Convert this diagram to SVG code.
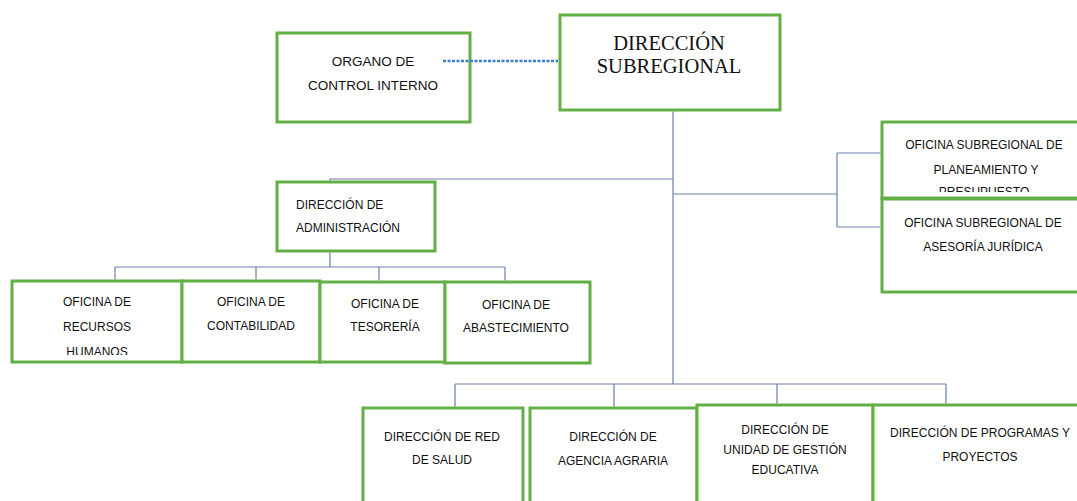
<svg xmlns="http://www.w3.org/2000/svg" width="1077" height="501" viewBox="0 0 1077 501">
<style>
.box{fill:#ffffff;stroke:#62b045;stroke-width:3}
.t{font-family:"Liberation Sans",Arial,sans-serif;font-size:12px;fill:#111111;text-anchor:middle}
.tl{text-anchor:start}
.serif{font-family:"Liberation Serif","Times New Roman",serif;font-size:20.5px;fill:#111111;text-anchor:middle}
.big{font-size:13.5px}
.ln{fill:none;stroke:#6a7fb0;stroke-width:1.2}
.dot{fill:none;stroke:#3f7fd6;stroke-width:2.5;stroke-dasharray:3 1.5}
</style>
<defs>
<clipPath id="clipPres"><rect x="880" y="120" width="200" height="72"/></clipPath>
<clipPath id="clipRRHH"><rect x="10" y="280" width="175" height="75"/></clipPath>
</defs>
<g id="n-direccion-subregional">
<rect class="box" x="560" y="15" width="220" height="95"/>
<text class="serif" x="669" y="50">DIRECCIÓN</text>
<text class="serif" x="669" y="73">SUBREGIONAL</text>
</g>
<g id="n-organo-control">
<rect class="box" x="277" y="33" width="193" height="89"/>
<text class="t big" x="373" y="66">ORGANO DE</text>
<text class="t big" x="373" y="90">CONTROL INTERNO</text>
</g>
<g id="n-admin">
<rect class="box" x="277" y="182" width="158" height="69"/>
<text class="t tl" x="296" y="209">DIRECCIÓN DE</text>
<text class="t tl" x="296" y="232">ADMINISTRACIÓN</text>
</g>
<g id="n-planeamiento">
<rect class="box" x="882" y="122" width="210" height="76"/>
<text class="t" x="984" y="149">OFICINA SUBREGIONAL DE</text>
<text class="t" x="986" y="174">PLANEAMIENTO Y</text>
<text class="t" x="984" y="196" clip-path="url(#clipPres)">PRESUPUESTO</text>
</g>
<g id="n-juridica">
<rect class="box" x="882" y="199" width="210" height="93"/>
<text class="t" x="983" y="227">OFICINA SUBREGIONAL DE</text>
<text class="t" x="983" y="251">ASESORÍA JURÍDICA</text>
</g>
<g id="n-rrhh">
<rect class="box" x="12" y="281" width="170" height="81"/>
<text class="t" x="97" y="306">OFICINA DE</text>
<text class="t" x="97" y="331">RECURSOS</text>
<text class="t" x="97" y="356" clip-path="url(#clipRRHH)">HUMANOS</text>
</g>
<g id="n-contabilidad">
<rect class="box" x="182" y="281" width="138" height="81"/>
<text class="t" x="251" y="306">OFICINA DE</text>
<text class="t" x="251" y="330">CONTABILIDAD</text>
</g>
<g id="n-tesoreria">
<rect class="box" x="320" y="282" width="125" height="80"/>
<text class="t" x="385" y="308">OFICINA DE</text>
<text class="t" x="385" y="331">TESORERÍA</text>
</g>
<g id="n-abastecimiento">
<rect class="box" x="445" y="282" width="145" height="81"/>
<text class="t" x="516" y="309">OFICINA DE</text>
<text class="t" x="516" y="332">ABASTECIMIENTO</text>
</g>
<g id="n-salud">
<rect class="box" x="363" y="408" width="160" height="110"/>
<text class="t" x="442" y="441">DIRECCIÓN DE RED</text>
<text class="t" x="442" y="464">DE SALUD</text>
</g>
<g id="n-agraria">
<rect class="box" x="530" y="408" width="167" height="110"/>
<text class="t" x="613" y="441">DIRECCIÓN DE</text>
<text class="t" x="613" y="465">AGENCIA AGRARIA</text>
</g>
<g id="n-ugel">
<rect class="box" x="697" y="405" width="176" height="113"/>
<text class="t" x="785" y="434">DIRECCIÓN DE</text>
<text class="t" x="785" y="454">UNIDAD DE GESTIÓN</text>
<text class="t" x="785" y="474">EDUCATIVA</text>
</g>
<g id="n-programas">
<rect class="box" x="873" y="405" width="220" height="113"/>
<text class="t" x="980" y="437">DIRECCIÓN DE PROGRAMAS Y</text>
<text class="t" x="980" y="461">PROYECTOS</text>
</g>
<g id="connectors">
<path class="dot" d="M443 61 H558"/>
<path class="ln" d="M673 111.5 V384"/>
<path class="ln" d="M673 179 H330 V180.5"/>
<path class="ln" d="M673 194 H837 M837 153 V227 M837 153 H880.5 M837 227 H880.5"/>
<path class="ln" d="M330 252.5 V267 M115 267 H505 M115 267 V279.5 M256 267 V279.5 M379 267 V280.5 M505 267 V280.5"/>
<path class="ln" d="M455 384 H946 M455 384 V406.5 M614 384 V406.5 M777 384 V403.5 M946 384 V403.5"/>
</g>
</svg>
